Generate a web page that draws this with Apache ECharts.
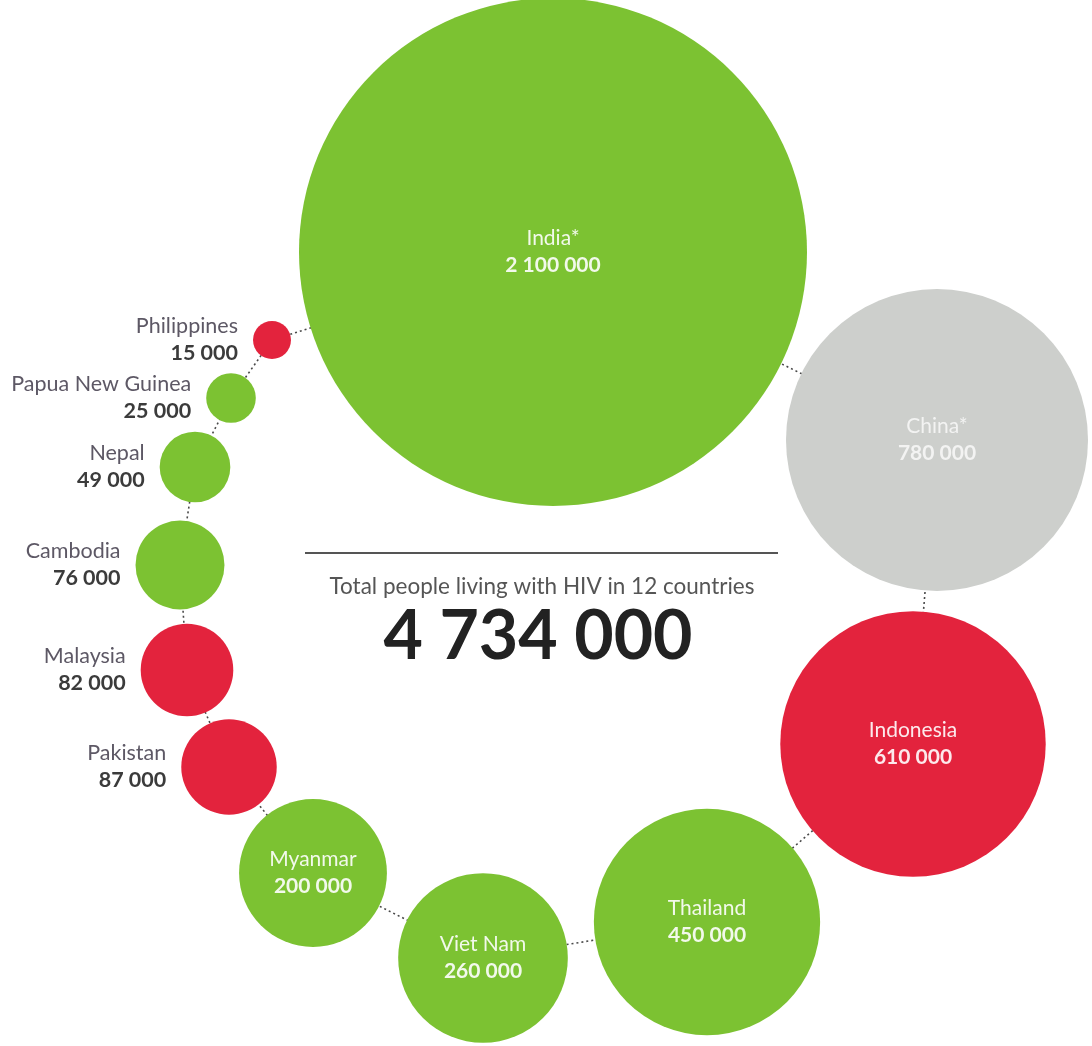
<!DOCTYPE html>
<html><head><meta charset="utf-8">
<script src="https://cdn.jsdelivr.net/npm/echarts@6/dist/echarts.min.js"></script>
<style>html,body{margin:0;padding:0;background:#fff}#c{width:1092px;height:1046px}</style>
</head><body><div id="c"></div>
<script>
// ---- data ----
const countries = ['India*','China*','Indonesia','Thailand','Viet Nam','Myanmar','Pakistan','Malaysia','Cambodia','Nepal','Papua New Guinea','Philippines'];
const peopleLivingWithHIV = [2100000,780000,610000,450000,260000,200000,87000,82000,76000,49000,25000,15000];
const colourGroup = ['green','grey','red','green','green','green','red','red','green','green','green','red'];
// layout of the bubble ring (chart coordinates, ring order)
const bubbleCentreX = [553,937,913,707,483,313,229,187,180,195,231,272];
const bubbleCentreY = [252,440,744,922,958,873,767,670,565,467,398,340];
const totalTitle = 'Total people living with HIV in 12 countries';

// ---- styling ----
const palette = {green:'#7cc232', grey:'#cdcfcc', red:'#e3233d'};
const fontFamily = 'Lato, "Noto Sans", sans-serif';
const maxRadius = 254, maxValue = 2100000, exponent = 0.525;
const fmt = v => String(v).replace(/\B(?=(\d{3})+(?!\d))/g, ' ');
const total = peopleLivingWithHIV.reduce((a,b)=>a+b,0);

const scatterData = countries.map((name,i)=>{
  const v = peopleLivingWithHIV[i];
  const inside = v >= 200000;
  const lightText = colourGroup[i]==='grey' ? 'rgba(255,255,255,0.75)' : 'rgba(255,255,255,0.9)';
  return {
    name,
    value:[bubbleCentreX[i], bubbleCentreY[i], v],
    itemStyle:{color: palette[colourGroup[i]], opacity:1},
    label: inside ? {
      show:true, position:'inside',
      formatter: '{n|'+name+'}\n{v|'+fmt(v)+'}',
      rich:{
        n:{fontFamily, fontSize:21, color:lightText, lineHeight:27, align:'center'},
        v:{fontFamily, fontSize:21, fontWeight:'bold', color:lightText, lineHeight:27, align:'center'}
      }
    } : {
      show:true, position:'left', distance:15,
      formatter: '{n|'+name+'}\n{v|'+fmt(v)+'}',
      rich:{
        n:{fontFamily, fontSize:21.5, color:'#5d5865', lineHeight:27, align:'right'},
        v:{fontFamily, fontSize:21.5, fontWeight:'bold', color:'#3b3b3b', lineHeight:27, align:'right'}
      }
    }
  };
});

const ringPath = bubbleCentreX.map((x,i)=>[x, bubbleCentreY[i]]);
ringPath.push([bubbleCentreX[0], bubbleCentreY[0]]);

const chart = echarts.init(document.getElementById('c'), null, {renderer:'canvas'});
chart.setOption({
  backgroundColor:'#fff',
  animation:false,
  grid:{left:0,right:0,top:0,bottom:0},
  xAxis:{type:'value',min:0,max:1092,show:false},
  yAxis:{type:'value',min:0,max:1046,inverse:true,show:false},
  series:[
    {
      type:'line', data:ringPath, symbol:'none', z:1, silent:true,
      lineStyle:{color:'#4a4a4a', width:1.6, type:[2,3]}
    },
    {
      type:'scatter', data:scatterData, z:2,
      symbolSize:(val)=> 2*maxRadius*Math.pow(val[2]/maxValue, exponent)
    }
  ],
  graphic:[
    {type:'line', shape:{x1:305,y1:553,x2:778,y2:553}, style:{stroke:'#555',lineWidth:2}},
    {type:'text', x:542, y:587, style:{text:totalTitle, fontFamily, fontSize:22.5, fill:'#555', align:'center', verticalAlign:'middle'}},
    {type:'text', x:538, y:637, style:{text:fmt(total), fontFamily, fontSize:68, fontWeight:'bold', fill:'#222', align:'center', verticalAlign:'middle'}}
  ]
});
</script></body></html>
